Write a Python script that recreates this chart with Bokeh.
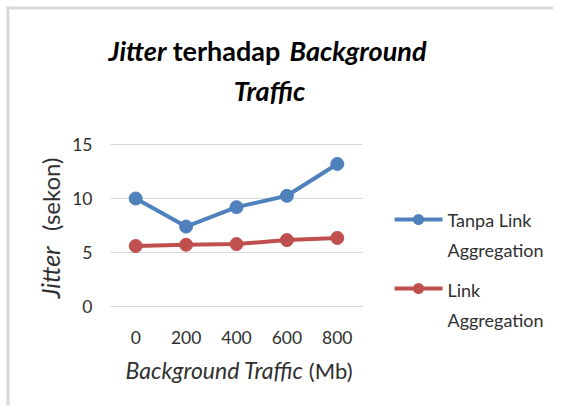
import math
from bokeh.plotting import figure
from bokeh.models import Label, LabelSet, BoxAnnotation, Range1d, ColumnDataSource
from bokeh.core.properties import value
from bokeh.embed import file_html
from bokeh.resources import INLINE

# ---- data ----
categories = ["0", "200", "400", "600", "800"]
tanpa_link = [10.0, 7.4, 9.2, 10.25, 13.2]
link_agg = [5.6, 5.72, 5.78, 6.15, 6.35]
y_ticks = [0, 5, 10, 15]
y_tick_labels = ["0", "5", "10", "15"]
series_names = ["Tanpa Link\nAggregation", "Link\nAggregation"]

BLUE = "#4F81BD"
RED = "#C0504D"
TXT = "#303030"
FONT = "Lato"
BASE_FIX = 0.43  # em offset between requested and drawn alphabetic baseline

W, H = 553, 405
# plot area of the chart in page pixels: x 110..362, y 144 (top) .. 306 (bottom)
PL, PR, PT, PB = 110, 362, 144, 306
n = len(categories)
cat_w = (PR - PL) / n
ymax = y_ticks[-1]
ppu = (PB - PT) / ymax
x0 = -0.5 - PL / cat_w
x1 = x0 + W / cat_w
y0 = -(H - PB) / ppu
y1 = ymax + PT / ppu

p = figure(width=W, height=H, output_backend="svg", toolbar_location=None,
           x_range=Range1d(x0, x1), y_range=Range1d(y0, y1),
           x_axis_location=None, y_axis_location=None,
           min_border=0)
p.outline_line_color = None
p.grid.visible = False
p.background_fill_color = "white"
p.border_fill_color = "white"

xi = list(range(n))

# gridlines
p.segment(x0=[-0.5] * len(y_ticks), x1=[n - 0.5] * len(y_ticks), y0=y_ticks, y1=y_ticks,
          line_color="#D9D9D9", line_width=1)

src = ColumnDataSource(dict(x=xi, a=tanpa_link, b=link_agg))
p.line("x", "a", source=src, line_color=BLUE, line_width=4)
p.scatter("x", "a", source=src, size=13, fill_color=BLUE, line_color=BLUE)
p.line("x", "b", source=src, line_color=RED, line_width=4)
p.scatter("x", "b", source=src, size=13, fill_color=RED, line_color=RED)

def sx(px):
    return px
def sy(py):
    return H - py

# tick labels
xt = ColumnDataSource(dict(x=xi, y=[sy(337)] * n, t=categories))
p.add_layout(LabelSet(x="x", y="y", text="t", source=xt, y_units="screen",
                      text_font=value(FONT), text_font_size="17.5px", text_color=TXT,
                      text_align="center", text_baseline="middle"))
yt = ColumnDataSource(dict(x=[sx(92)] * len(y_ticks), y=y_ticks, t=y_tick_labels))
p.add_layout(LabelSet(x="x", y="y", text="t", source=yt, x_units="screen",
                      text_font=value(FONT), text_font_size="17.5px", text_color=TXT,
                      text_align="right", text_baseline="middle"))

def lab(text, px, py, size, style="normal", align="left", color=TXT, angle=0.0):
    # py / px: wanted alphabetic baseline on the page
    fix = BASE_FIX * size
    if angle:
        x, y = sx(px - fix), sy(py)
    else:
        x, y = sx(px), sy(py - fix)
    p.add_layout(Label(x=x, y=y, x_units="screen", y_units="screen",
                       text=text, text_font=FONT, text_font_size=f"{size}px",
                       text_font_style=style, text_align=align,
                       text_baseline="alphabetic", text_color=color, angle=angle))

# title
lab("Jitter", 166, 62, 27, "bold italic", "right", "black")
lab("terhadap", 226, 62, 27, "bold", "center", "black")
lab("Background", 289, 62, 27, "bold italic", "left", "black")
lab("Traffic", 269, 102, 27, "bold italic", "center", "black")

# y axis label (rotated)
lab("Jitter", 60, 298, 25, "italic", "left", TXT, math.pi / 2)
lab("(sekon)", 60, 157, 24, "normal", "right", TXT, math.pi / 2)

# x axis label
lab("Background Traffic", 125, 379, 23, "italic", "left", TXT)
lab("(Mb)", 352, 379, 22, "normal", "right", TXT)

def box(l, r, t, b, **kw):
    p.add_layout(BoxAnnotation(left=sx(l), right=sx(r), top=sy(t), bottom=sy(b),
                               left_units="screen", right_units="screen",
                               top_units="screen", bottom_units="screen", **kw))

# legend
leg = [(BLUE, 219, series_names[0], 227), (RED, 288, series_names[1], 297)]
for color, ly, name, base in leg:
    box(394, 442, ly - 2, ly + 2, fill_color=color, fill_alpha=1, line_alpha=0)
    box(412.5, 423.5, ly - 5.5, ly + 5.5, fill_color=color, fill_alpha=1, line_alpha=0,
        border_radius=6)
    for i, line in enumerate(name.split("\n")):
        lab(line, 447, base + 30 * i, 18, "normal", "left", TXT)

# outer chart border (left & top edge)
box(6, 9, 6, H, fill_color="#D9D9D9", fill_alpha=1, line_alpha=0)
box(6, W, 6, 9, fill_color="#D9D9D9", fill_alpha=1, line_alpha=0)

html = file_html(p, INLINE)
html = html.replace("</head>", "<style>html, body { overflow: hidden; }</style>\n</head>", 1)
open("out.html", "w").write(html)
